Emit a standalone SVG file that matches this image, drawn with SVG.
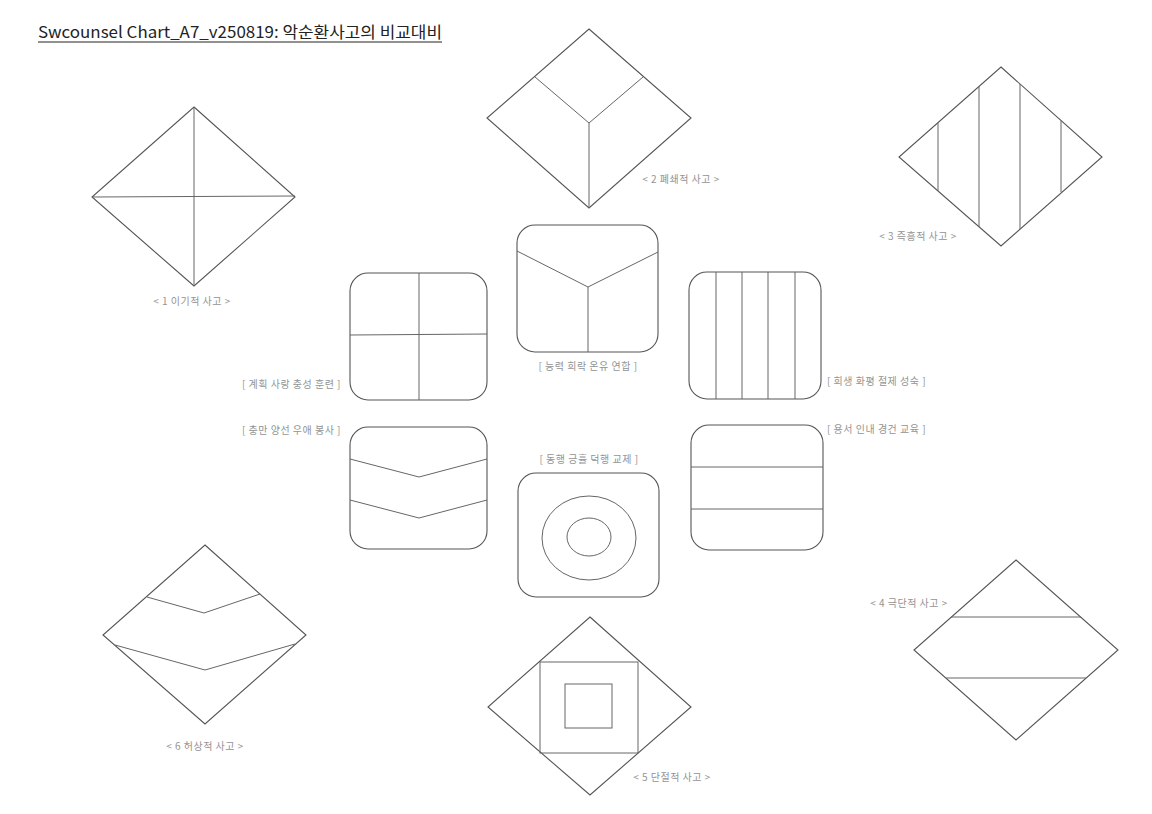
<svg xmlns="http://www.w3.org/2000/svg" width="1152" height="814" viewBox="0 0 1152 814">
<style>
.s{fill:none;stroke:#555;stroke-width:1.1}
.l{fill:none;stroke:#666;stroke-width:1}
.t{font-family:"Noto Sans CJK KR","Noto Sans",sans-serif;font-size:10px;letter-spacing:0.5px;fill:#939393}
.title{font-family:"Noto Sans CJK KR","Noto Sans",sans-serif;font-size:16px;fill:#222}
</style>
<rect width="1152" height="814" fill="#fff"/>
<g id="title">
<text class="title" x="38" y="38" textLength="404" lengthAdjust="spacingAndGlyphs">Swcounsel Chart_A7_v250819: 악순환사고의 비교대비</text>
<line x1="38" y1="42" x2="442" y2="42" stroke="#222" stroke-width="1"/>
</g>
<g id="d1">
<polygon class="s" points="194,107 295,197 194,286 92,197"/>
<line class="l" x1="92" y1="197" x2="295" y2="196"/>
<line class="l" x1="194" y1="107" x2="194" y2="286"/>
<text class="t" x="192" y="305" text-anchor="middle">&lt; 1 이기적 사고 &gt;</text>
</g>
<g id="d2">
<polygon class="s" points="589,29 691,118 589,208 487,118"/>
<polyline class="l" points="535,77 589,123 643,77"/>
<line class="l" x1="589" y1="123" x2="589" y2="208"/>
<text class="t" x="681" y="183" text-anchor="middle">&lt; 2 폐쇄적 사고 &gt;</text>
</g>
<g id="d3">
<polygon class="s" points="1001,67 1102,157 1001,246 899,157"/>
<line class="l" x1="938" y1="123" x2="938" y2="191"/>
<line class="l" x1="979" y1="87" x2="979" y2="227"/>
<line class="l" x1="1020" y1="84" x2="1020" y2="229"/>
<line class="l" x1="1061" y1="121" x2="1061" y2="192"/>
<text class="t" x="918" y="240" text-anchor="middle">&lt; 3 즉흥적 사고 &gt;</text>
</g>
<g id="d4">
<polygon class="s" points="1016,560 1118,650 1016,740 914,650"/>
<line class="l" x1="951" y1="617" x2="1081" y2="617"/>
<line class="l" x1="946" y1="678" x2="1086" y2="678"/>
<text class="t" x="909" y="607" text-anchor="middle">&lt; 4 극단적 사고 &gt;</text>
</g>
<g id="d5">
<polygon class="s" points="590,617 691,707 590,795 488,707"/>
<rect class="l" x="540" y="662" width="98" height="91"/>
<rect class="l" x="565" y="684" width="47" height="44"/>
<text class="t" x="672" y="781" text-anchor="middle">&lt; 5 단절적 사고 &gt;</text>
</g>
<g id="d6">
<polygon class="s" points="205,545 306,635 205,724 103,635"/>
<polyline class="l" points="147,597 204,613 260,594"/>
<polyline class="l" points="115,645 205,670 295,644"/>
<text class="t" x="205" y="750" text-anchor="middle">&lt; 6 허상적 사고 &gt;</text>
</g>
<g id="q1">
<rect class="s" x="350" y="273" width="137" height="127" rx="18"/>
<line class="l" x1="419" y1="273" x2="419" y2="400"/>
<line class="l" x1="350" y1="335" x2="487" y2="334"/>
<text class="t" x="341" y="388" text-anchor="end">[ 계획 사랑 충성 훈련 ]</text>
</g>
<g id="q2">
<rect class="s" x="517" y="225" width="141" height="127" rx="18"/>
<polyline class="l" points="517,251 588,287 658,252"/>
<line class="l" x1="588" y1="287" x2="588" y2="352"/>
<text class="t" x="588" y="370" text-anchor="middle">[ 능력 희락 온유 연합 ]</text>
</g>
<g id="q3">
<rect class="s" x="689" y="272" width="132" height="127" rx="18"/>
<line class="l" x1="716" y1="272" x2="716" y2="399"/>
<line class="l" x1="742" y1="272" x2="742" y2="399"/>
<line class="l" x1="768" y1="272" x2="768" y2="399"/>
<line class="l" x1="795" y1="272" x2="795" y2="399"/>
<text class="t" x="827" y="385">[ 희생 화평 절제 성숙 ]</text>
</g>
<g id="q4">
<rect class="s" x="350" y="427" width="137" height="122" rx="18"/>
<polyline class="l" points="350,459 419,477 487,459"/>
<polyline class="l" points="350,500 419,518 487,500"/>
<text class="t" x="341" y="434" text-anchor="end">[ 충만 양선 우애 봉사 ]</text>
</g>
<g id="q5">
<rect class="s" x="518" y="473" width="141" height="124" rx="18"/>
<ellipse class="l" cx="589" cy="538" rx="47" ry="42"/>
<ellipse class="l" cx="589" cy="537" rx="22" ry="19"/>
<text class="t" x="589" y="463" text-anchor="middle">[ 동행 긍휼 덕행 교제 ]</text>
</g>
<g id="q6">
<rect class="s" x="691" y="425" width="132" height="125" rx="18"/>
<line class="l" x1="691" y1="467" x2="823" y2="467"/>
<line class="l" x1="691" y1="509" x2="823" y2="509"/>
<text class="t" x="827" y="433">[ 용서 인내 경건 교육 ]</text>
</g>
<g id="connectors"></g>
</svg>
